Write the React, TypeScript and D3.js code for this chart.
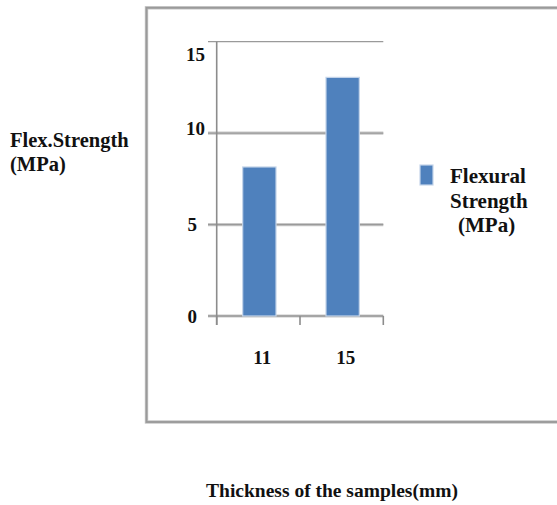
import React from "react";
import * as d3 from "d3";

const categories: string[] = ["11", "15"];
const values: number[] = [8.15, 13.05];
const yTicks: number[] = [0, 5, 10, 15];
const seriesName: string[] = ["Flexural", "Strength", "(MPa)"];
const yTitle: string[] = ["Flex.Strength", "(MPa)"];
const xTitle = "Thickness of the samples(mm)";

const W = 557;
const H = 505;
const FONT = "Liberation Serif, Times New Roman, serif";

export default function App() {
  const x = d3
    .scaleBand<string>()
    .domain(categories)
    .range([216.7, 383.3])
    .paddingInner(0.6)
    .paddingOuter(0.3);
  const y = d3.scaleLinear().domain([0, 15]).range([316, 41.7]);
  const axisX = 216.7;
  const axisRight = 383.3;
  const tickEdges = [axisX, axisX + x.step(), axisRight];
  const txt = { fontFamily: FONT, fontWeight: 700 as const };

  return (
    <svg
      width={W}
      height={H}
      style={{ position: "absolute", left: 0, top: 0, background: "#fff" }}
    >
      {/* outer frame */}
      <rect x={146.5} y={7.8} width={460} height={414.2} fill="none" stroke="#c4c4c4" strokeWidth={3.4} />
      <rect x={146.5} y={7.8} width={460} height={414.2} fill="none" stroke="#9a9a9a" strokeWidth={1.8} />

      {/* gridlines */}
      {yTicks.map((t) => (
        <g key={"g" + t}>
          {t !== 15 && (
            <line x1={208} x2={axisRight} y1={y(t)} y2={y(t)} stroke="#c8c8c8" strokeWidth={3.2} />
          )}
          <line x1={208} x2={axisRight} y1={y(t)} y2={y(t)} stroke="#9a9a9a" strokeWidth={1.3} />
        </g>
      ))}

      {/* y axis */}
      <line x1={axisX} x2={axisX} y1={y(15)} y2={325} stroke="#8c8c8c" strokeWidth={1.6} />
      {/* x ticks */}
      {tickEdges.map((tx, i) => (
        <line key={"t" + i} x1={tx} x2={tx} y1={y(0)} y2={325} stroke="#8c8c8c" strokeWidth={1.6} />
      ))}

      {/* bars */}
      {categories.map((c, i) => (
        <rect
          key={c}
          x={x(c)! + 1}
          y={y(values[i])}
          width={x.bandwidth()}
          height={y(0) - y(values[i])}
          fill="#4f81bd"
          stroke="#c5d5ea"
          strokeWidth={1.2}
        />
      ))}

      {/* y tick labels */}
      {yTicks.map((t) => (
        <text
          key={"l" + t}
          x={t >= 10 ? 205 : 197}
          y={t === 15 ? y(t) + 13 : t === 10 ? y(t) - 5 : y(t)}
          dy="0.35em"
          textAnchor="end"
          fontSize={19}
          fill="#111"
          style={txt}
        >
          {t}
        </text>
      ))}

      {/* x tick labels */}
      {categories.map((c) => (
        <text key={"x" + c} x={x(c)! + x.bandwidth() / 2 + 4} y={364} textAnchor="middle" fontSize={19} fill="#111" style={txt}>
          {c}
        </text>
      ))}

      {/* y title */}
      {yTitle.map((s, i) => (
        <text key={"yt" + i} x={10} y={147 + i * 24} fontSize={20.5} fill="#111" style={txt}>
          {s}
        </text>
      ))}

      {/* legend */}
      <rect x={420} y={165} width={13} height={20} fill="#4f81bd" stroke="#c5d5ea" strokeWidth={1.2} />
      {seriesName.map((s, i) => (
        <text key={"lg" + i} x={i === 2 ? 458 : 450} y={183 + i * 24.5} fontSize={21} fill="#111" style={txt}>
          {s}
        </text>
      ))}

      {/* x title */}
      <text x={332} y={497} textAnchor="middle" fontSize={19.5} fill="#111" style={txt}>
        {xTitle}
      </text>
    </svg>
  );
}
